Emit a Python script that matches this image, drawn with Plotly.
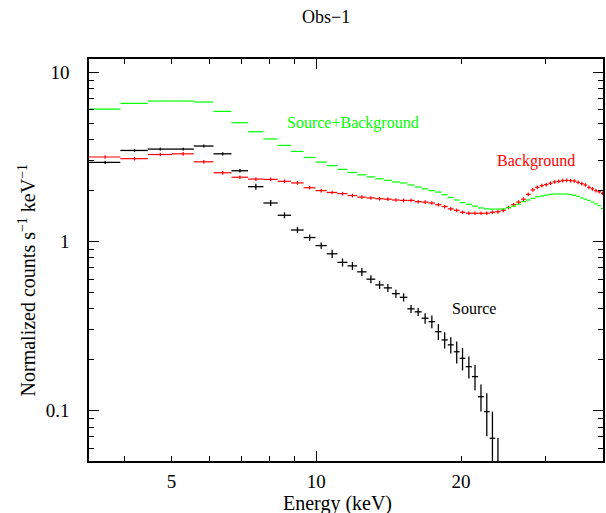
import math
import plotly.graph_objects as go

# ---------------- data ----------------
energy_keV = [3.64, 4.19, 4.74, 5.29, 5.84, 6.39, 6.94, 7.49, 8.04, 8.59,
              9.14, 9.69, 10.24, 10.79, 11.34, 11.89, 12.44, 12.99, 13.54, 14.09,
              14.64, 15.19, 15.74, 16.29, 16.84, 17.39, 17.94, 18.49, 19.04, 19.59,
              20.14, 20.76, 21.38, 22.00, 22.62, 23.24, 23.86, 24.48, 25.10, 25.72,
              26.34, 26.96, 27.58, 28.20, 28.82, 29.44, 30.06, 30.68, 31.30, 31.92,
              32.54, 33.16, 33.78, 34.40, 35.02, 35.64, 36.26, 36.88, 37.50, 38.12,
              38.74, 39.36]
half_width_keV = [0.275] * 31 + [0.31] * 31

source_plus_bkg = [6.07, 6.56, 6.77, 6.77, 6.68, 5.88, 5.04, 4.46, 4.04, 3.70,
                   3.41, 3.14, 2.95, 2.81, 2.67, 2.56, 2.48, 2.41, 2.35, 2.30,
                   2.25, 2.22, 2.16, 2.10, 2.05, 2.00, 1.96, 1.89, 1.82, 1.76,
                   1.70, 1.66, 1.62, 1.58, 1.56, 1.555, 1.555, 1.56, 1.585, 1.62,
                   1.66, 1.72, 1.76, 1.80, 1.84, 1.86, 1.88, 1.90, 1.91, 1.91,
                   1.91, 1.91, 1.895, 1.875, 1.85, 1.81, 1.78, 1.75, 1.71, 1.67,
                   1.63, 1.57]

background = [3.16, 3.09, 3.27, 3.30, 2.96, 2.55, 2.40, 2.34, 2.33, 2.27,
              2.22, 2.08, 2.00, 1.95, 1.92, 1.87, 1.83, 1.81, 1.79, 1.78,
              1.76, 1.75, 1.75, 1.72, 1.71, 1.69, 1.65, 1.61, 1.56, 1.53,
              1.49, 1.47, 1.47, 1.47, 1.47, 1.49, 1.50, 1.53, 1.59, 1.65,
              1.71, 1.78, 1.90, 2.02, 2.09, 2.14, 2.17, 2.21, 2.25, 2.27,
              2.29, 2.30, 2.29, 2.28, 2.24, 2.20, 2.16, 2.09, 2.05, 2.00,
              1.97, 1.93]
background_err = [0.079, 0.077, 0.082, 0.083, 0.074, 0.064, 0.060, 0.059, 0.058, 0.057,
                  0.056, 0.052, 0.050, 0.049, 0.048, 0.047, 0.046, 0.045, 0.045, 0.045,
                  0.044, 0.044, 0.044, 0.043, 0.043, 0.042, 0.041, 0.040, 0.039, 0.038,
                  0.037, 0.037, 0.037, 0.037, 0.037, 0.037, 0.038, 0.038, 0.040, 0.041,
                  0.043, 0.045, 0.048, 0.051, 0.052, 0.054, 0.054, 0.055, 0.056, 0.057,
                  0.057, 0.058, 0.057, 0.057, 0.056, 0.055, 0.054, 0.052, 0.051, 0.050,
                  0.049, 0.048]

source = [2.935, 3.455, 3.52, 3.52, 3.67, 3.30, 2.62, 2.11, 1.69, 1.43,
          1.17, 1.056, 0.946, 0.846, 0.753, 0.718, 0.662, 0.599, 0.554, 0.532,
          0.492, 0.468, 0.400, 0.384, 0.352, 0.336, 0.293, 0.262, 0.245, 0.223,
          0.204, 0.182, 0.159, 0.121, 0.0987, 0.0687, 0.035]
source_err = [0.06, 0.07, 0.07, 0.07, 0.075, 0.07, 0.06, 0.085, 0.07, 0.058,
              0.048, 0.044, 0.040, 0.047, 0.041, 0.039, 0.036, 0.033, 0.030, 0.029,
              0.027, 0.026, 0.022, 0.021, 0.025, 0.029, 0.032, 0.029, 0.027, 0.033,
              0.031, 0.027, 0.027, 0.022, 0.028, 0.030, 0.034]

x_tick_vals = [5, 10, 20]
x_tick_text = ["5", "10", "20"]
x_minor_vals = [4, 6, 7, 8, 9, 30]
y_tick_vals = [0.1, 1, 10]
y_tick_text = ["0.1", "1", "10"]
y_minor_vals = [0.06, 0.07, 0.08, 0.09, 0.2, 0.3, 0.4, 0.5, 0.6, 0.7, 0.8, 0.9,
                2, 3, 4, 5, 6, 7, 8, 9]

x_range = [3.37, 39.45]
y_range = [0.0504, 12.0]

FONT = "Liberation Serif, Times New Roman, serif"
GREEN = "#00ff00"
RED = "#ff0000"
BLACK = "#000000"

fig = go.Figure()

hidden_marker = dict(size=2, opacity=0)

n_src = len(source)
fig.add_trace(go.Scatter(
    x=energy_keV[:n_src], y=source, mode="markers",
    marker=dict(color=BLACK, **hidden_marker),
    error_x=dict(type="data", array=half_width_keV[:n_src], color=BLACK, thickness=1.3, width=0),
    error_y=dict(type="data", array=source_err, color=BLACK, thickness=1.3, width=0),
    name="Source"))

fig.add_trace(go.Scatter(
    x=energy_keV, y=background, mode="markers",
    marker=dict(color=RED, **hidden_marker),
    error_x=dict(type="data", array=half_width_keV, color=RED, thickness=1.2, width=0),
    error_y=dict(type="data", array=background_err, color=RED, thickness=1.2, width=0),
    name="Background"))

fig.add_trace(go.Scatter(
    x=energy_keV, y=source_plus_bkg, mode="markers", xaxis="x2",
    marker=dict(color=GREEN, **hidden_marker),
    error_x=dict(type="data", array=half_width_keV, color=GREEN, thickness=1.2, width=0),
    name="Source+Background"))

xr = [math.log10(v) for v in x_range]
yr = [math.log10(v) for v in y_range]

common_axis = dict(showline=True, linecolor=BLACK, linewidth=1.5, mirror="ticks",
                   showgrid=False, zeroline=False, ticks="inside", tickcolor=BLACK,
                   tickwidth=1.2, automargin=False)

fig.update_layout(
    width=606, height=513,
    margin=dict(l=89, r=3, t=59, b=52, pad=0),
    paper_bgcolor="white", plot_bgcolor="white",
    showlegend=False,
    font=dict(family=FONT, size=19, color=BLACK),
    xaxis=dict(type="log", range=xr, tickvals=x_tick_vals, ticktext=x_tick_text,
               ticklen=5, ticklabelstandoff=2,
               minor=dict(tickvals=x_minor_vals, ticks="inside", ticklen=5,
                          tickwidth=1.2, tickcolor=BLACK, showgrid=False),
               **common_axis),
    xaxis2=dict(type="log", range=xr, overlaying="x", side="bottom", anchor="y",
                tickvals=[10], ticklen=10, showticklabels=False, **common_axis),
    yaxis=dict(type="log", range=yr, tickvals=y_tick_vals, ticktext=y_tick_text,
               ticklen=10, ticklabelstandoff=14,
               minor=dict(tickvals=y_minor_vals, ticks="inside", ticklen=5,
                          tickwidth=1.2, tickcolor=BLACK, showgrid=False),
               **common_axis),
)

ann = [
    dict(text="Obs\u22121", x=0.4618, y=1.1053, size=18, color=BLACK, angle=0),
    dict(text="Energy (keV)", x=0.4836, y=-0.1046, size=20, color=BLACK, angle=0),
    dict(text="Normalized counts s<sup>\u22121</sup> keV<sup>\u22121</sup>",
         x=-0.1214, y=0.4506, size=20, color=BLACK, angle=-90),
    dict(text="Source+Background", x=0.5137, y=0.8414, size=16, color=GREEN, angle=0),
    dict(text="Background", x=0.8687, y=0.7456, size=16, color=RED, angle=0),
    dict(text="Source", x=0.7481, y=0.3784, size=16, color=BLACK, angle=0),
]
for a in ann:
    fig.add_annotation(text=a["text"], x=a["x"], y=a["y"], xref="paper", yref="paper",
                       xanchor="center", yanchor="middle", showarrow=False,
                       textangle=a["angle"],
                       font=dict(family=FONT, size=a["size"], color=a["color"]))

fig.write_html("out.html",
               config={"displayModeBar": False},
               post_script="document.body.style.margin='0';document.body.style.padding='0';")
